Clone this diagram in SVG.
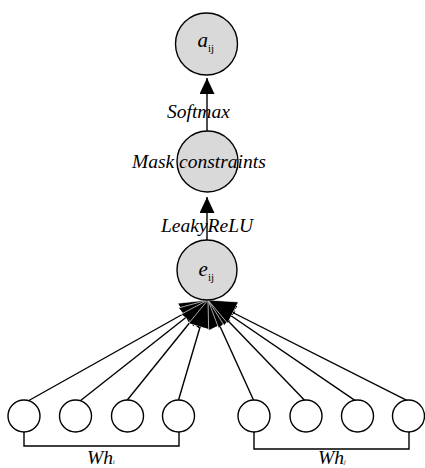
<svg xmlns="http://www.w3.org/2000/svg" width="425" height="468" viewBox="0 0 425 468">
  <style>
    .node { fill: #d9d9d9; stroke: #000; stroke-width: 1.4; }
    .input { fill: #fff; stroke: #000; stroke-width: 1.4; }
    .edge { fill: none; stroke: #000; stroke-width: 1.4; }
    .lbl { font-family: "Liberation Serif", "Times New Roman", serif; font-style: italic; font-size: 19.5px; fill: #000; }
    .var { font-family: "Liberation Serif", "Times New Roman", serif; font-style: italic; font-size: 21px; fill: #000; }
    .sub { font-family: "Liberation Serif", "Times New Roman", serif; font-style: normal; font-size: 11px; fill: #000; }
    .tiny { font-family: "Liberation Serif", "Times New Roman", serif; font-style: italic; font-size: 6px; fill: #000; }
  </style>
  <defs>
    <marker id="head" markerUnits="userSpaceOnUse" markerWidth="16" markerHeight="15" viewBox="0 0 16 15" refX="16" refY="7.5" orient="auto">
      <path d="M0,0 L16,7.5 L0,15 z" fill="#000"/>
    </marker>
    <marker id="fanhead" markerUnits="userSpaceOnUse" markerWidth="28" markerHeight="24" viewBox="0 0 28 24" refX="28" refY="12" orient="auto">
      <path d="M0,0 L28,12 L0,24 z" fill="#000" stroke="#fff" stroke-width="0.6"/>
    </marker>
  </defs>

  <!-- connectors -->
  <g id="connectors">
    <line class="edge" x1="207" y1="131" x2="207" y2="78" marker-end="url(#head)"/>
    <line class="edge" x1="207" y1="240" x2="207" y2="197" marker-end="url(#head)"/>
    <line class="edge" x1="28" y1="401" x2="208" y2="300" marker-end="url(#fanhead)"/>
    <line class="edge" x1="80" y1="401" x2="208" y2="300" marker-end="url(#fanhead)"/>
    <line class="edge" x1="126.7" y1="400.7" x2="208" y2="300" marker-end="url(#fanhead)"/>
    <line class="edge" x1="178.3" y1="400.7" x2="208" y2="300" marker-end="url(#fanhead)"/>
    <line class="edge" x1="254.3" y1="401.7" x2="208" y2="300" marker-end="url(#fanhead)"/>
    <line class="edge" x1="306" y1="401.7" x2="208" y2="300" marker-end="url(#fanhead)"/>
    <line class="edge" x1="356.7" y1="401.7" x2="208" y2="300" marker-end="url(#fanhead)"/>
    <line class="edge" x1="409.3" y1="401.7" x2="208" y2="300" marker-end="url(#fanhead)"/>
    <!-- group brackets -->
    <path class="edge" d="M24,432 V446 H179 V432"/>
    <path class="edge" d="M254,432 V449 H409 V432"/>
  </g>

  <!-- attention coefficient -->
  <g id="node-a">
    <circle class="node" cx="206.5" cy="44" r="31"/>
    <text class="var" x="197.5" y="47">a</text>
    <text class="sub" x="208" y="52">ij</text>
  </g>

  <!-- masking step -->
  <g id="node-mask">
    <circle class="node" cx="207.5" cy="161.5" r="30.5"/>
  </g>

  <!-- raw score -->
  <g id="node-e">
    <circle class="node" cx="207" cy="270" r="30"/>
    <text class="var" x="198.5" y="276">e</text>
    <text class="sub" x="208" y="281">ij</text>
  </g>

  <!-- input features, group i -->
  <g id="node-i1"><circle class="input" cx="24" cy="416" r="16"/></g>
  <g id="node-i2"><circle class="input" cx="75.5" cy="416" r="16"/></g>
  <g id="node-i3"><circle class="input" cx="127.5" cy="416" r="16"/></g>
  <g id="node-i4"><circle class="input" cx="178.5" cy="416" r="16"/></g>

  <!-- input features, group j -->
  <g id="node-j1"><circle class="input" cx="254" cy="416" r="16"/></g>
  <g id="node-j2"><circle class="input" cx="306" cy="416" r="16"/></g>
  <g id="node-j3"><circle class="input" cx="357.5" cy="416" r="16"/></g>
  <g id="node-j4"><circle class="input" cx="408.5" cy="416" r="16"/></g>

  <!-- edge labels -->
  <g id="labels">
    <text class="lbl" x="167" y="118">Softmax</text>
    <text class="lbl" x="132" y="168">Mask constraints</text>
    <text class="lbl" x="161" y="232">LeakyReLU</text>
    <text class="lbl" x="87" y="464">Wh<tspan class="tiny">i</tspan></text>
    <text class="lbl" x="318" y="464">Wh<tspan class="tiny">j</tspan></text>
  </g>
</svg>
